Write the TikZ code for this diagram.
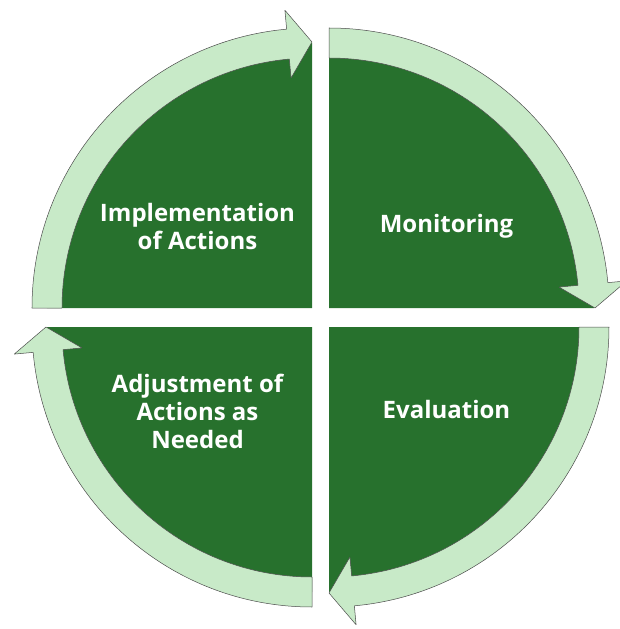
\documentclass[tikz,border=0pt]{standalone}
\usepackage{fontspec}
\setmainfont{Open Sans}
\definecolor{leafdark}{HTML}{27712D}
\definecolor{leaflight}{HTML}{C8EAC8}

\begin{document}
\begin{tikzpicture}[
      x=1pt,y=1pt,
      quad/.style={fill=leafdark},
      band/.style={fill=leaflight,draw=black!70,line width=0.5pt,line join=round},
      lbl/.style={text=white,align=center,font=\bfseries\fontsize{24}{28}\selectfont},
      pics/quarter/.style={code={
        \fill[quad] (0,0)--(#1:265) arc[start angle=#1,delta angle=-90,radius=265]--cycle;
        \draw[band] (#1:280) arc[start angle=#1,delta angle=-84.8,radius=280]
          --(#1-84.8:299)--(#1-90:266)--(#1-84.8:231)--(#1-84.8:250)
          arc[start angle=#1-84.8,delta angle=84.8,radius=250]--cycle;}}]
    \useasboundingbox (-320.5,-311.5) rectangle (299.5,317.5);
    \coordinate (tl) at (-8.5,9.5);
    \coordinate (tr) at (8.5,9.5);
    \coordinate (br) at (8.5,-9.5);
    \coordinate (bl) at (-8.5,-9.5);
    \pic at (tl) {quarter=180};
    \pic at (tr) {quarter=90};
    \pic at (br) {quarter=0};
    \pic at (bl) {quarter=-90};
    \node[lbl] (impl) at (-123,91) {Implementation\\of Actions};
    \node[lbl] (monit) at (126,91) {Monitoring};
    \node[lbl] (evalu) at (126,-92) {Evaluation};
    \node[lbl] (adjust) at (-123,-94) {Adjustment of\\Actions as\\Needed};
  \end{tikzpicture}
\end{document}
